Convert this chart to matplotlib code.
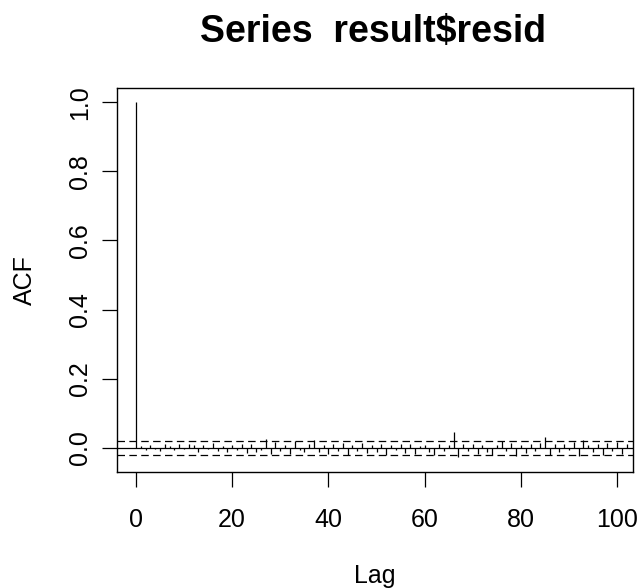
import matplotlib
matplotlib.use("Agg")
import matplotlib.pyplot as plt
import numpy as np

# autocorrelation of residuals, lag 0..102
lags = list(range(103))
acf = [1.0,
       0.004, -0.006, 0.008, -0.003, -0.010, 0.012, 0.006, -0.008, 0.010,
       -0.005, 0.011, 0.007, -0.012, 0.009, -0.004, 0.013, -0.009, 0.006, -0.014,
       0.008, -0.006, 0.012, -0.016, 0.010, -0.013, -0.008, 0.024, -0.018, 0.015,
       -0.011, 0.009, -0.017, 0.020, -0.007, -0.014, 0.011, 0.022, -0.012, 0.008,
       -0.019, 0.010, -0.009, 0.013, -0.021, 0.007, -0.010, 0.014, -0.016, 0.009,
       -0.012, 0.011, -0.020, 0.008, -0.007, 0.012, -0.015, 0.010, -0.018, 0.006,
       0.009, -0.013, -0.022, 0.011, -0.010, 0.008, 0.044, -0.026, 0.012, -0.009,
       0.010, -0.017, 0.007, -0.012, -0.020, 0.009, 0.019, -0.011, 0.013, -0.024,
       0.008, -0.015, 0.011, -0.009, 0.014, 0.030, -0.021, 0.010, -0.013, 0.012,
       -0.008, 0.015, -0.025, 0.022, 0.009, -0.014, 0.011, -0.022, 0.013, -0.010,
       0.016, -0.019, 0.012]
conf = 0.0205
xticks = [0, 20, 40, 60, 80, 100]
yticks = [0.0, 0.2, 0.4, 0.6, 0.8, 1.0]

plt.rcParams["font.family"] = ["Liberation Sans", "DejaVu Sans"]

fig = plt.figure(figsize=(6.39, 5.88), dpi=100)
ax = fig.add_axes([0.183, 0.197, 0.8076, 0.653])

ax.vlines(lags, 0, acf, color="black", linewidth=0.9)
ax.axhline(0, color="black", linewidth=0.9)
for c in (conf, -conf):
    ax.axhline(c, color="black", linewidth=0.9, linestyle=(0, (6, 3.5)))

ax.set_xlim(-3.95, 103.3)
ax.set_ylim(-0.071, 1.041)
ax.set_xticks(xticks)
ax.set_xticklabels([str(t) for t in xticks])
ax.set_yticks(yticks)
ax.set_yticklabels(["%.1f" % t for t in yticks], rotation=90, va="center")
ax.tick_params(direction="out", length=10.8, width=0.9, labelsize=18)
ax.tick_params(axis="x", pad=15)
ax.tick_params(axis="y", pad=7)
for s in ax.spines.values():
    s.set_linewidth(1.0)

fig.text(0.584, 0.945, "Series  result$resid", ha="center", va="center",
         fontsize=27, fontweight="bold")
fig.text(0.587, 0.021, "Lag", ha="center", va="center", fontsize=18)
fig.text(0.039, 0.523, "ACF", ha="center", va="center", fontsize=18, rotation=90)

fig.savefig("out.png", dpi=100)
